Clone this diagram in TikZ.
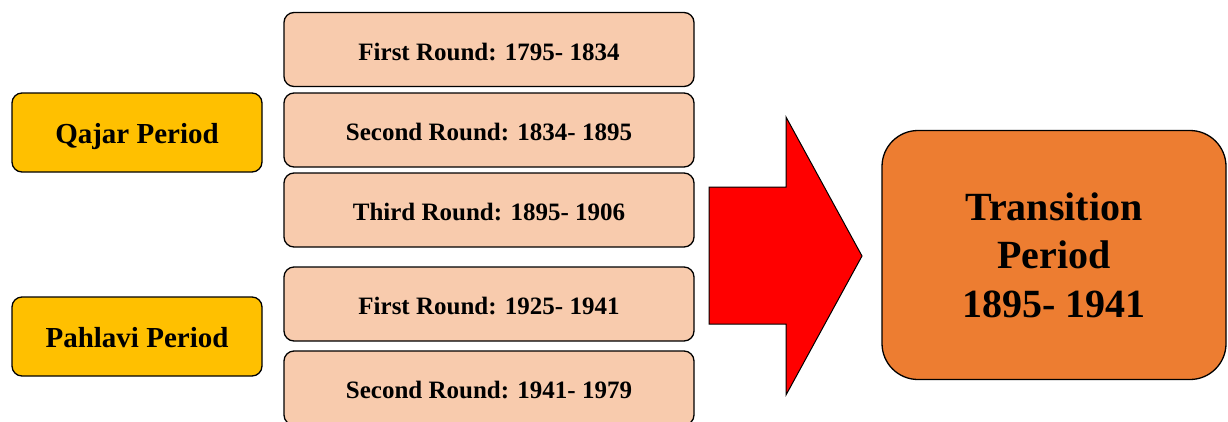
\documentclass[tikz,border=0pt]{standalone}
\usepackage{fontspec}
\setmainfont{Liberation Serif}
\definecolor{peach}{HTML}{F8CBAD}
\definecolor{gold}{HTML}{FFC000}
\definecolor{orangebox}{HTML}{ED7D31}
\begin{document}
\begin{tikzpicture}[x=1pt,y=-1pt,
  roundbox/.style={draw=black, line width=1.3pt, rounded corners=10pt, fill=peach,
    minimum width=410pt, minimum height=74pt, inner sep=0pt,
    text height=21.5pt, text depth=0pt,
    font=\fontsize{25}{30}\selectfont\bfseries},
  periodbox/.style={draw=black, line width=1.3pt, rounded corners=10pt, fill=gold,
    minimum width=250pt, minimum height=79pt, inner sep=0pt,
    text height=22.2pt, text depth=0pt,
    font=\fontsize{29}{34}\selectfont\bfseries},
  bigbox/.style={draw=black, line width=1.3pt, rounded corners=36pt, fill=orangebox,
    minimum width=344pt, minimum height=249pt, inner sep=0pt, align=center,
    font=\fontsize{40}{48.5}\selectfont\bfseries},
  bigarrow/.style={draw=black, line width=1pt, fill=red, line join=miter}]
\useasboundingbox (0,0) rectangle (1228,421);
\begin{scope}
\clip (0,0) rectangle (1228,421);
\node[roundbox] (r1) at (489,49.5) {First Round: 1795- 1834};
\node[roundbox] (r2) at (489,130) {Second Round: 1834- 1895};
\node[roundbox] (r3) at (489,210) {Third Round: 1895- 1906};
\node[roundbox] (p1) at (489,304) {First Round: 1925- 1941};
\node[roundbox] (p2) at (489,388) {Second Round: 1941- 1979};
\node[periodbox] (qajar) at (137,132.5) {Qajar Period};
\node[periodbox] (pahlavi) at (137,336.5) {Pahlavi Period};
\node[bigbox] (trans) at (1054,255) {Transition\\Period\\1895- 1941};
\draw[bigarrow] (709,187) -- (786,187) -- (786,117) -- (862,256) -- (786,395)
  -- (786,324) -- (709,324) -- cycle;
\end{scope}
\end{tikzpicture}
\end{document}
